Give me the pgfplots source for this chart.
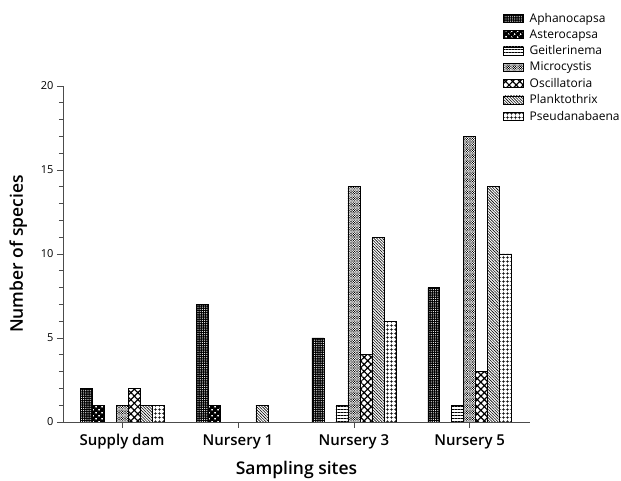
\documentclass[border=0pt]{standalone}
\usepackage{pgfplots}
\pgfplotsset{compat=1.18}
\usepackage{fontspec}
\setmainfont{Open Sans}[BoldFont={Open Sans Semibold}]
\usetikzlibrary{patterns.meta}
\begin{document}
\begin{tikzpicture}
\useasboundingbox (-63pt,-59pt) rectangle (558pt,422pt);
\begin{axis}[
  at={(0pt,0pt)}, anchor=south west,
  scale only axis, width=467pt, height=336pt,
  xmin=-0.51, xmax=3.52, ymin=0, ymax=20,
  axis lines=left, axis line style={-, gray!60!black, line width=0.8pt},
  xtick={0,1,2,3},
  xticklabels={Supply dam, Nursery 1, Nursery 3, Nursery 5},
  ytick={0,5,10,15,20},
  minor y tick num=4,
  tick align=outside,
  major tick length=6pt, minor tick length=4pt,
  tick style={gray!60!black, line width=0.6pt},
  /pgf/number format/assume math mode=true,
  yticklabel style={font=\fontsize{11}{13}\selectfont},
  xticklabel style={font=\fontsize{15}{17}\selectfont\bfseries, yshift=-3pt},
  xlabel={Sampling sites}, ylabel={Number of species},
  xlabel style={font=\fontsize{17.5}{19}\selectfont\bfseries, yshift=-5pt},
  ylabel style={font=\fontsize{17.5}{19}\selectfont\bfseries, yshift=7pt},
  bar width=0.1034,
  ybar,
  every axis plot/.append style={draw=black, line width=0.6pt},
  legend style={at={(0.942,1.22)}, anchor=north west, draw=none, fill=none,
    inner sep=0pt,
    font=\fontsize{12}{13}\selectfont, row sep=3.8pt,
    nodes={inner xsep=6pt, inner ysep=1pt}},
  legend cell align=left,
  legend image code/.code={\draw[#1] (0pt,-4pt) rectangle (20pt,4pt);},
]
\addplot[bar shift=-0.3102, fill=black, postaction={pattern={Dots[radius=0.6pt,distance=2.2pt]}, pattern color=white}]
  coordinates {(0,2) (1,7) (2,5) (3,8)};
\addplot[bar shift=-0.2068, fill=black, postaction={pattern={Dots[radius=1.1pt,distance=4pt,angle=45]}, pattern color=white}]
  coordinates {(0,1) (1,1)};
\addplot[bar shift=-0.1034, fill=white, postaction={pattern={Lines[angle=0,distance=3pt,line width=0.6pt]}, pattern color=black}]
  coordinates {(2,1) (3,1)};
\addplot[bar shift=0, fill=white, postaction={pattern={Dots[radius=0.75pt,distance=1.7pt,angle=45]}, pattern color=black}]
  coordinates {(0,1) (2,14) (3,17)};
\addplot[bar shift=0.1034, fill=white, postaction={pattern={Hatch[angle=45,distance=5pt,line width=1.2pt]}, pattern color=black}]
  coordinates {(0,2) (2,4) (3,3)};
\addplot[bar shift=0.2068, fill=white, postaction={pattern={Lines[angle=-45,distance=2pt,line width=0.6pt]}, pattern color=black}]
  coordinates {(0,1) (1,1) (2,11) (3,14)};
\addplot[bar shift=0.3102, fill=white, postaction={pattern={Hatch[angle=0,distance=4pt,line width=0.6pt]}, pattern color=black}]
  coordinates {(0,1) (2,6) (3,10)};
\legend{Aphanocapsa, Asterocapsa, Geitlerinema, Microcystis, Oscillatoria, Planktothrix, Pseudanabaena}
\end{axis}
\end{tikzpicture}
\end{document}
